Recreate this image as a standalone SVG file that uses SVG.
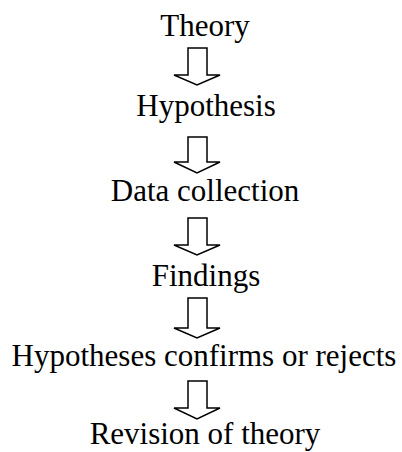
<svg xmlns="http://www.w3.org/2000/svg" width="402" height="452" viewBox="0 0 402 452">
<style>
.t{font-family:"Liberation Serif","Times New Roman",serif;font-size:31px;fill:#000;text-anchor:middle}
.a{fill:#fff;stroke:#000;stroke-width:1.5;stroke-linejoin:miter}
</style>
<rect width="402" height="452" fill="#fff"/>
<g id="n1"><text class="t" x="205" y="36">Theory</text></g>
<g id="n2"><text class="t" x="206" y="116">Hypothesis</text></g>
<g id="n3"><text class="t" x="205" y="201">Data collection</text></g>
<g id="n4"><text class="t" x="206" y="286">Findings</text></g>
<g id="n5"><text class="t" x="204" y="366">Hypotheses confirms or rejects</text></g>
<g id="n6"><text class="t" x="205" y="444">Revision of theory</text></g>
<g id="connectors">
<path class="a" d="M188,48 V75 H174 L197,85 L220,75 H207 V48 Z"/>
<path class="a" d="M188,137 V162 H174 L197,173 L220,162 H207 V137 Z"/>
<path class="a" d="M188,218 V245 H174 L197,255 L220,245 H207 V218 Z"/>
<path class="a" d="M188,298 V328 H174 L197,338 L220,328 H207 V298 Z"/>
<path class="a" d="M188,381 V408 H174 L197,419 L220,408 H207 V381 Z"/>
</g>
</svg>
